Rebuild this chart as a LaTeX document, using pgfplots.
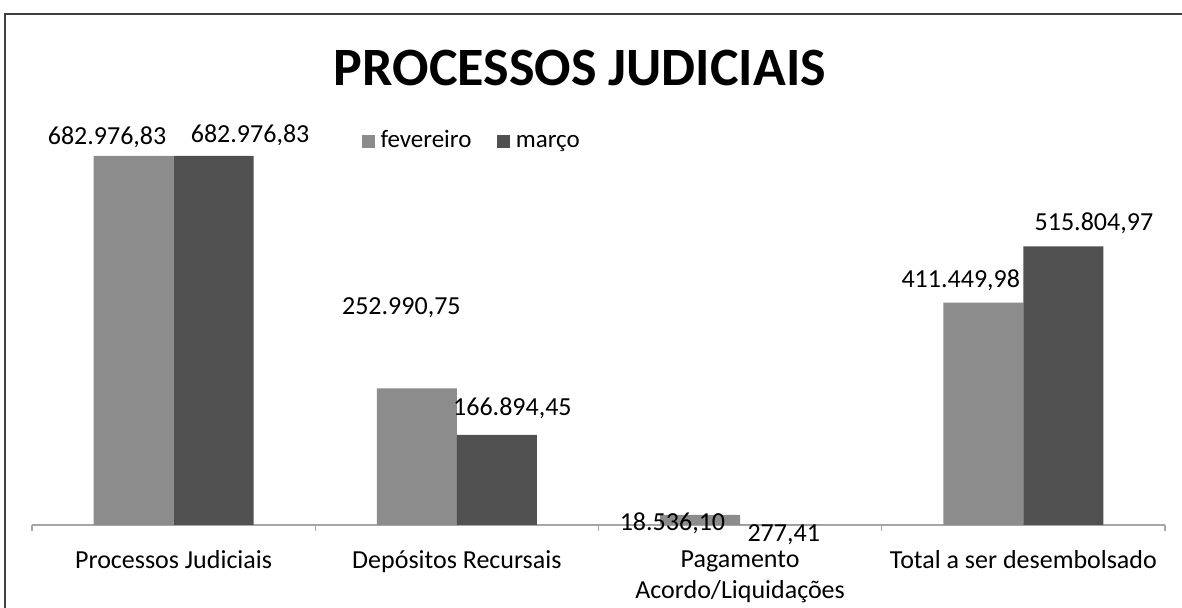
\documentclass[border=0pt]{standalone}
\usepackage{fontspec}
\setmainfont{Carlito}
\usepackage{pgfplots}
\pgfplotsset{compat=1.18}
\definecolor{fev}{RGB}{140,140,140}
\definecolor{mar}{RGB}{80,80,80}
\begin{document}
\begin{tikzpicture}
\useasboundingbox (0,0) rectangle (591pt,304pt);
\fill[white] (0,0) rectangle (591pt,304pt);
\draw[line width=0.8pt, black!75] (2.5pt,0) -- (2.5pt,297pt) -- (591pt,297pt);
\begin{axis}[
 at={(16pt,41.5pt)}, anchor=south west,
 scale only axis, width=566.5pt, height=202.5pt,
 xmin=-0.5, xmax=3.5, ymin=0, ymax=749600,
 axis x line=bottom, axis y line=none,
 x axis line style={-, gray!70, line width=0.6pt},
 ybar=0pt, bar width=40pt,
 xtick={0,1,2,3},
 xticklabels={Processos Judiciais, Depósitos Recursais, {Pagamento\\Acordo/Liquidações}, Total a ser desembolsado},
 xticklabel style={font=\fontsize{13}{15.5}\selectfont, align=center, yshift=-5pt},
 major tick style={draw=none},
 minor xtick={-0.5,0.5,1.5,2.5,3.5},
 minor tick length=3pt,
 minor tick style={gray!70, line width=0.6pt},
 tick align=outside,
 legend style={at={(0.39,0.947)}, anchor=center, draw=none, fill=none, legend columns=2,
   font=\fontsize{12.5}{15}\selectfont,
   nodes={text height=1.6ex, text depth=0.4ex, inner ysep=1.5pt, inner xsep=3pt},
   /tikz/every even column/.append style={column sep=10pt}},
 legend image code/.code={\fill[#1] (0cm,-0.11cm) rectangle (0.22cm,0.11cm);},
 clip=false,
]
\addplot[fill=fev, draw=none] coordinates {(0,682976.83) (1,252990.75) (2,18536.10) (3,411449.98)};
\addplot[fill=mar, draw=none] coordinates {(0,682976.83) (1,166894.45) (2,277.41) (3,515804.97)};
\legend{fevereiro, março}
\begin{scope}[every node/.style={font=\fontsize{13}{15}\selectfont, inner sep=0pt}]
\node at (axis cs:-0.235,718000) {682.976,83};
\node at (axis cs:0.270,721000) {682.976,83};
\node at (axis cs:0.804,401650) {252.990,75};
\node at (axis cs:1.196,216555) {166.894,45};
\node at (axis cs:1.761,3700) {18.536,10};
\node at (axis cs:2.154,-18509) {277,41};
\node at (axis cs:2.779,453470) {411.449,98};
\node at (axis cs:3.249,558970) {515.804,97};
\end{scope}
\end{axis}
\node[font=\bfseries\fontsize{27}{32}\selectfont] at (290pt,270pt) {PROCESSOS JUDICIAIS};
\end{tikzpicture}
\end{document}
